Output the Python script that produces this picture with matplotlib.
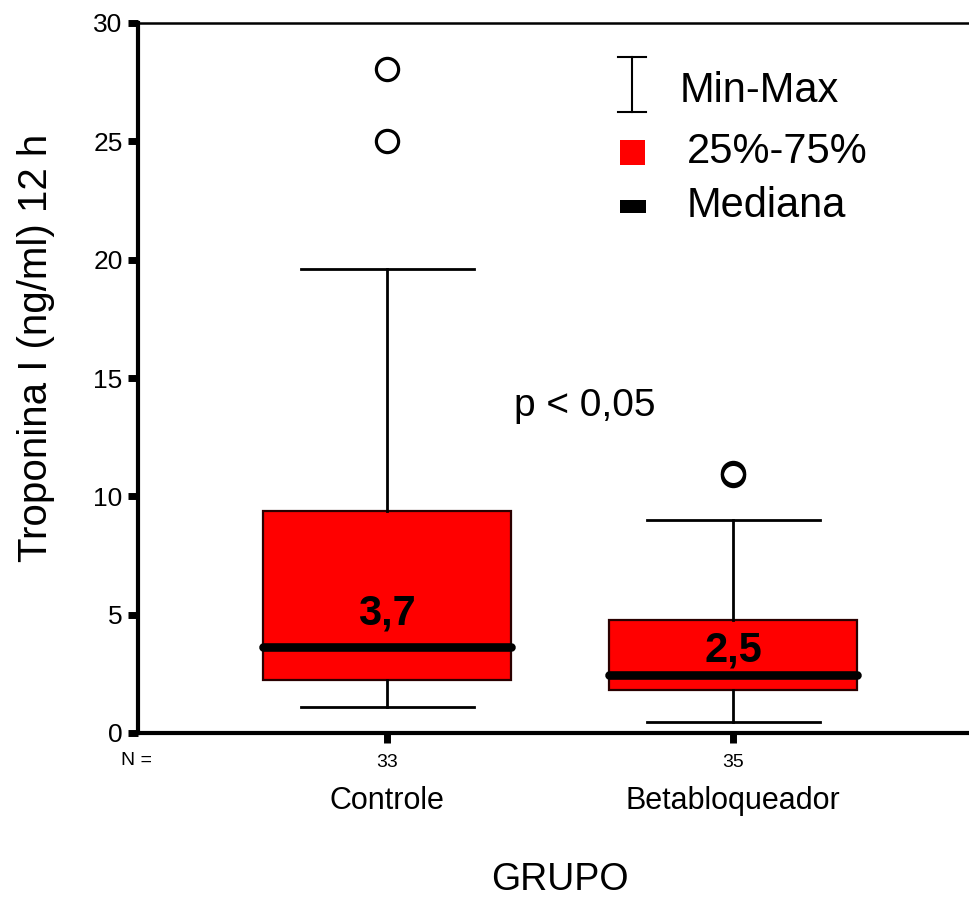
import matplotlib
matplotlib.use("Agg")
import matplotlib.pyplot as plt
from matplotlib.patches import Rectangle

plt.rcParams['font.family'] = ['Liberation Sans', 'DejaVu Sans']

# data
grupos = ["Controle", "Betabloqueador"]
n_grupo = ["33", "35"]
q1 = [2.25, 1.82]
mediana = [3.65, 2.46]
q3 = [9.4, 4.78]
minimo = [1.1, 0.47]
maximo = [19.6, 9.0]
outliers = [[25.0, 28.05], [10.9, 11.0]]
mediana_txt = ["3,7", "2,5"]
mediana_off = [16, 9.5]   # label baseline offset above the median (points)
yticks = [0, 5, 10, 15, 20, 25, 30]

fig = plt.figure(figsize=(9.7, 8.98), dpi=100)
ax = fig.add_axes([138 / 970, 1 - 733 / 898, 832 / 970, 710 / 898])

stats = []
for i in range(len(grupos)):
    stats.append(dict(med=mediana[i], q1=q1[i], q3=q3[i],
                      whislo=minimo[i], whishi=maximo[i],
                      fliers=outliers[i], label=grupos[i]))

pos = [1, 2]
ax.bxp(stats, positions=pos, widths=0.717, capwidths=0.5,
       patch_artist=True, manage_ticks=False,
       boxprops=dict(facecolor='#ff0000', edgecolor='#2a0000', linewidth=1.6),
       medianprops=dict(color='black', linewidth=6.2, solid_capstyle='round'),
       whiskerprops=dict(color='black', linewidth=2),
       capprops=dict(color='black', linewidth=2),
       flierprops=dict(marker='o', markerfacecolor='none', markeredgecolor='black',
                       markersize=16, markeredgewidth=2.3))

# median labels
for x, m, t, off in zip(pos, mediana, mediana_txt, mediana_off):
    ax.annotate(t, (x, m), xytext=(0, off), textcoords='offset points',
                ha='center', va='baseline', fontsize=30, fontweight='bold')

ax.set_xlim(0.28, 2.685)
ax.set_ylim(0, 30)

ax.spines['right'].set_visible(False)
ax.spines['left'].set_linewidth(3)
ax.spines['bottom'].set_linewidth(3)
ax.spines['top'].set_linewidth(1.8)

ax.set_yticks(yticks)
ax.set_yticklabels([str(v) for v in yticks], fontsize=19)
ax.tick_params(axis='y', length=7, width=5, pad=4)
ax.set_xticks(pos)
ax.set_xticklabels(n_grupo, fontsize=14)
ax.tick_params(axis='x', length=7, width=5, pad=8)

# N = and group names below the axis
ax.text(-0.002, -0.045, "N =", transform=ax.transAxes, ha='center',
        va='baseline', fontsize=14)
tr = ax.get_xaxis_transform()
for x, g in zip(pos, grupos):
    ax.text(x, -0.107, g, transform=tr, ha='center', va='baseline', fontsize=22)

fig.text(0.577, 0.009, "GRUPO", ha='center', va='baseline', fontsize=27)
fig.text(0.037, 0.6125, "Troponina I (ng/ml) 12 h", rotation=90,
         ha='center', va='center', fontsize=29)

ax.text(0.537, 0.446, "p < 0,05", transform=ax.transAxes, ha='center',
        va='baseline', fontsize=28)

# hand-drawn legend
ax.plot([0.594, 0.594], [0.875, 0.952], color='black', lw=1.5,
        transform=ax.transAxes, clip_on=False)
for yy in (0.875, 0.952):
    ax.plot([0.577, 0.611], [yy, yy], color='black', lw=1.5,
            transform=ax.transAxes, clip_on=False)
ax.add_patch(Rectangle((0.579, 0.800), 0.030, 0.035, facecolor='#ff0000',
                       edgecolor='none', transform=ax.transAxes, clip_on=False))
ax.add_patch(Rectangle((0.579, 0.732), 0.031, 0.019, facecolor='black',
                       edgecolor='none', transform=ax.transAxes, clip_on=False))
ax.text(0.651, 0.889, "Min-Max", transform=ax.transAxes, va='baseline', fontsize=30)
ax.text(0.660, 0.803, "25%-75%", transform=ax.transAxes, va='baseline', fontsize=30)
ax.text(0.660, 0.727, "Mediana", transform=ax.transAxes, va='baseline', fontsize=30)

fig.savefig("out.png", dpi=100)
